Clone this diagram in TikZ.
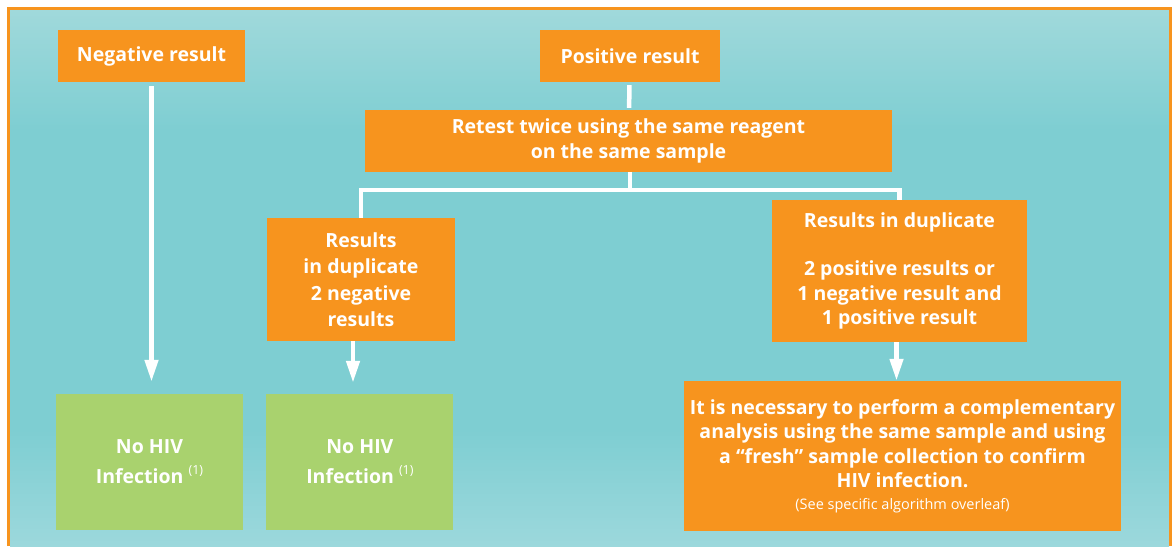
\documentclass[tikz,border=0pt]{standalone}
\usepackage{fontspec}
\setmainfont{Open Sans}
\usetikzlibrary{positioning, arrows.meta}
\definecolor{boxorange}{RGB}{247,148,30}
\definecolor{boxgreen}{RGB}{169,210,110}
\definecolor{tealtop}{RGB}{160,217,219}
\definecolor{tealmid}{RGB}{126,206,210}
\definecolor{tealbot}{RGB}{156,216,220}
\newcommand{\notemark}[1]{\raisebox{9pt}{\mdseries\fontsize{12.5}{12.5}\selectfont(#1)}}
\tikzset{
	x=1pt, y=-1pt,
	every text node part/.style= {
		align=center
	},
	result/.style= {
		rectangle,
		fill=boxorange,
		text=white,
		inner sep=0pt,
		font=\fontsize{19.5}{24.5}\selectfont\bfseries
	},
	verdict/.style= {
		rectangle,
		fill=boxgreen,
		text=white,
		inner sep=0pt,
		minimum width=187pt,
		minimum height=136pt,
		font=\fontsize{19.5}{30}\selectfont\bfseries
	},
	link/.style= {
		white,
		line width=4.5pt
	},
	arrow/.style= {
		link,
		-{Triangle[width=13pt, length=22pt]}
	}
}

\begin{document}
\begin{tikzpicture}
		\useasboundingbox (0,0) rectangle (1172,546);
		\fill[tealmid] (10,10) rectangle (1169,546);
		\shade[top color=tealtop, bottom color=tealmid] (10,10) rectangle (1169,130);
		\shade[top color=tealmid, bottom color=tealbot] (10,430) rectangle (1169,546);
		\draw[boxorange, line width=3pt] (8.5,546) -- (8.5,8.5) -- (1170.5,8.5) -- (1170.5,546);
		
		\node (neg)[result, minimum width=187pt, minimum height=52pt] at (151.5,56) {Negative result};
		\node (pos)[result, minimum width=180pt, minimum height=52pt] at (630,56) {Positive result};
		\node (retest)[result, minimum width=527pt, minimum height=62pt] at (628.5,141) {Retest twice using the same reagent\\on the same sample};
		
		\node (dupneg)[result, font=\fontsize{19.5}{26.5}\selectfont\bfseries, minimum width=188pt, minimum height=123pt] at (361,279.5) {Results\\in duplicate\\2 negative\\results};
		\node (duppos)[result, minimum width=255pt, minimum height=142pt] at (899.5,271) {Results in duplicate\\[24pt]2 positive results or\\1 negative result and\\1 positive result};
		
		\node (nohivA)[verdict] at (149.5,462) {No HIV\\Infection \notemark{1}};
		\node (nohivB)[verdict, right=23pt of nohivA] {No HIV\\Infection \notemark{1}};
		\node (confirm)[result, minimum width=437pt, minimum height=150pt] at (902.5,456) {It is necessary to perform a complementary\\analysis using the same sample and using\\a “fresh” sample collection to confirm\\HIV infection.\\[-3pt]{\mdseries\fontsize{14.5}{16}\selectfont(See specific algorithm overleaf)}};
		
		\coordinate (split) at (630,190);
		\draw[link, shorten <=3pt, shorten >=2pt] (pos) to (retest);
		\draw[link] (retest.south -| split) to (split);
		\draw[link] (dupneg.north) |- (split) -| (duppos.north);
		
		\draw[arrow, shorten <=4pt, shorten >=12pt] (neg) to (neg |- nohivA.north);
		\draw[arrow, shorten >=11pt] ([xshift=-8pt]dupneg.south) to ([xshift=-8pt]dupneg.south |- nohivB.north);
		\draw[arrow] ([xshift=-3pt]duppos.south) to ([xshift=-3pt]duppos.south |- confirm.north);
	\end{tikzpicture}
\end{document}
